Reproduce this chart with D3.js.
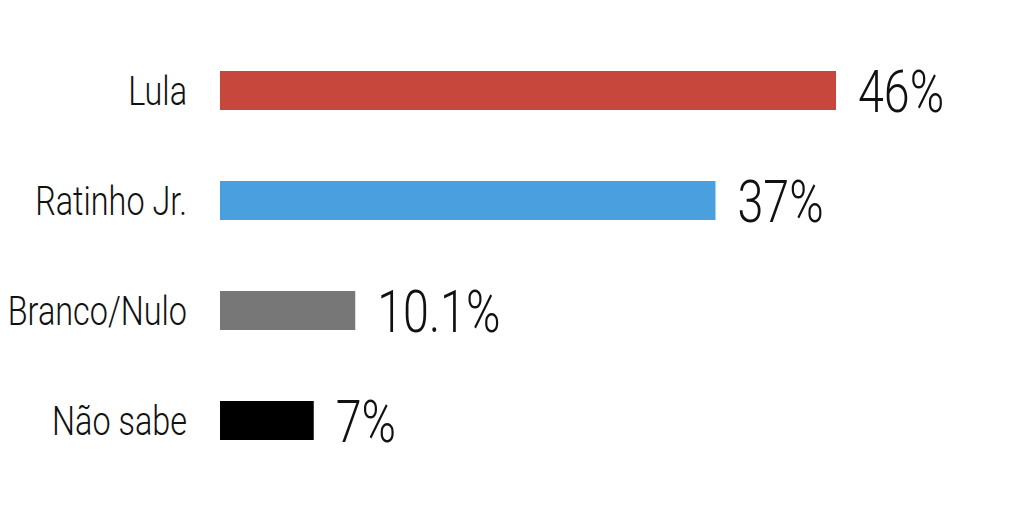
<!DOCTYPE html>
<html><head><meta charset="utf-8">
<script src="https://cdn.jsdelivr.net/npm/d3@7"></script>
<style>html,body{margin:0;padding:0;background:#fff;}</style>
</head><body>
<svg id="chart" width="1024" height="512"></svg>
<script>
const categories = ["Lula", "Ratinho Jr.", "Branco/Nulo", "Não sabe"];
const values = [46, 37, 10.1, 7];
const valueLabels = ["46%", "37%", "10.1%", "7%"];
const colors = ["#c8473d", "#4a9fdf", "#777777", "#000000"];

const svg = d3.select("#chart");
const x = d3.scaleLinear().domain([0, 46]).range([220, 836]);
const y = d3.scaleBand().domain(categories).range([35.5, 475.5]).paddingInner(0.6455).paddingOuter(0.32275);

svg.selectAll("rect.bar").data(categories).join("rect")
  .attr("class", "bar")
  .attr("x", x(0))
  .attr("y", d => y(d))
  .attr("width", (d, i) => x(values[i]) - x(0))
  .attr("height", y.bandwidth())
  .attr("fill", (d, i) => colors[i]);

svg.selectAll("text.cat").data(categories).join("text")
  .attr("class", "cat")
  .attr("transform", d => `translate(187,${y(d) + y.bandwidth() / 2}) scale(0.79,1)`)
  .attr("text-anchor", "end")
  .attr("dy", "0.36em")
  .style("font-family", "Roboto, 'Liberation Sans', sans-serif")
  .style("font-size", "41px")
  .style("font-weight", 300)
  .attr("fill", "#111")
  .text(d => d);

svg.selectAll("text.val").data(categories).join("text")
  .attr("class", "val")
  .attr("transform", (d, i) => `translate(${x(values[i]) + 22},${y(d) + y.bandwidth() / 2}) scale(0.79,1)`)
  .attr("text-anchor", "start")
  .attr("dy", "0.36em")
  .style("font-family", "Roboto, 'Liberation Sans', sans-serif")
  .style("font-size", "59px")
  .style("font-weight", 300)
  .attr("fill", "#111")
  .text((d, i) => valueLabels[i]);
</script>
</body></html>
